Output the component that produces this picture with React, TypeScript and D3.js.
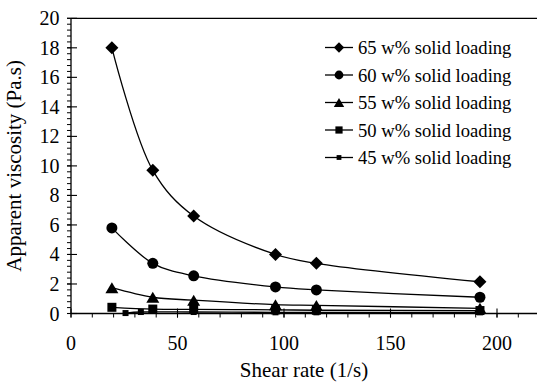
import React from "react";
import * as d3 from "d3";

const xMain = [19.2, 38.4, 57.6, 96, 115.2, 192];
const x45 = [25.6, 32.8, 57.6, 96, 115.2, 192];
const v65 = [18, 9.7, 6.6, 4.0, 3.4, 2.15];
const v60 = [5.8, 3.4, 2.55, 1.8, 1.6, 1.1];
const v55 = [1.75, 1.1, 0.9, 0.6, 0.55, 0.35];
const v50 = [0.42, 0.3, 0.28, 0.25, 0.22, 0.2];
const v45 = [0.03, 0.1, 0.1, 0.08, 0.08, 0.08];
const seriesNames = [
  "65 w% solid loading",
  "60 w% solid loading",
  "55 w% solid loading",
  "50 w% solid loading",
  "45 w% solid loading",
];
const xTicks = [0, 50, 100, 150, 200];
const yTicks = [0, 2, 4, 6, 8, 10, 12, 14, 16, 18, 20];

type Shape = "diamond" | "circle" | "triangle" | "square" | "smallsquare";

const series: { name: string; xs: number[]; ys: number[]; shape: Shape }[] = [
  { name: seriesNames[0], xs: xMain, ys: v65, shape: "diamond" },
  { name: seriesNames[1], xs: xMain, ys: v60, shape: "circle" },
  { name: seriesNames[2], xs: xMain, ys: v55, shape: "triangle" },
  { name: seriesNames[3], xs: xMain, ys: v50, shape: "square" },
  { name: seriesNames[4], xs: x45, ys: v45, shape: "smallsquare" },
];

function Marker({ shape, x, y, s = 1 }: { shape: Shape; x: number; y: number; s?: number }) {
  if (shape === "diamond") {
    const r = 6.5 * s;
    return <path d={`M${x},${y - r}L${x + r},${y}L${x},${y + r}L${x - r},${y}Z`} fill="#000" />;
  }
  if (shape === "circle") return <circle cx={x} cy={y} r={5.5 * s} fill="#000" />;
  if (shape === "triangle") {
    const w = 6.5 * s, h = 5.5 * s;
    return <path d={`M${x},${y - h}L${x + w},${y + h}L${x - w},${y + h}Z`} fill="#000" />;
  }
  if (shape === "square") {
    const r = 4.5 * s;
    return <rect x={x - r} y={y - r} width={2 * r} height={2 * r} fill="#000" />;
  }
  const r = 3 * s;
  return <rect x={x - r} y={y - r} width={2 * r} height={2 * r} fill="#000" />;
}

export default function App() {
  const W = 537, H = 382;
  const x = d3.scaleLinear().domain([0, 220]).range([71, 539.6]);
  const y = d3.scaleLinear().domain([0, 20]).range([313.5, 18.3]);
  const font = '"Liberation Serif", "Times New Roman", Times, serif';
  const line = d3
    .line<[number, number]>()
    .x((d) => x(d[0]))
    .y((d) => y(d[1]))
    .curve(d3.curveCatmullRom.alpha(0.5));

  const minorY = d3.range(0, 20.001, 0.4);
  const minorX = d3.range(0, 221, 10);

  const legendX = 325;
  const legendY0 = 47.5;
  const legendDy = 27.5;
  const ts = { fontFamily: font };

  return (
    <svg width={W} height={H} style={{ position: "absolute", left: 0, top: 0, background: "#fff" }}>
      <rect width={W} height={H} fill="#fff" />
      <line x1={x(0)} x2={W} y1={y(20)} y2={y(20)} stroke="#000" strokeWidth={1.3} />
      <line x1={x(0)} x2={x(0)} y1={y(0)} y2={y(20)} stroke="#000" strokeWidth={1.3} />
      {minorY.map((v, i) => (
        <line key={"my" + i} x1={x(0) - 4} x2={x(0)} y1={y(v)} y2={y(v)} stroke="#000" strokeWidth={1} />
      ))}
      {yTicks.map((v) => (
        <g key={"y" + v}>
          <line x1={x(0) - 4} x2={x(0) + 6} y1={y(v)} y2={y(v)} stroke="#000" strokeWidth={1.1} />
          <text x={59.5} y={y(v)} dy="0.35em" textAnchor="end" fontSize={20} fill="#000" style={ts}>
            {v}
          </text>
        </g>
      ))}
      <line x1={x(0)} x2={W} y1={y(0)} y2={y(0)} stroke="#000" strokeWidth={1.3} />
      {minorX.map((v, i) => (
        <line key={"mx" + i} x1={x(v)} x2={x(v)} y1={y(0)} y2={y(0) + 4} stroke="#000" strokeWidth={1} />
      ))}
      {xTicks.map((v) => (
        <g key={"x" + v}>
          <line x1={x(v)} x2={x(v)} y1={y(0) - 5} y2={y(0) + 4} stroke="#000" strokeWidth={1.1} />
          <text x={x(v)} y={350} textAnchor="middle" fontSize={20} fill="#000" style={ts}>
            {v}
          </text>
        </g>
      ))}
      <text x={304} y={377} textAnchor="middle" fontSize={21} fill="#000" style={ts}>
        Shear rate (1/s)
      </text>
      <text
        transform={`translate(21,${(y(0) + y(20)) / 2}) rotate(-90)`}
        textAnchor="middle"
        fontSize={21}
        fill="#000"
        style={ts}
      >
        Apparent viscosity (Pa.s)
      </text>
      {series.map((s, i) => {
        const pts = s.xs.map((xv, j) => [xv, s.ys[j]] as [number, number]);
        return (
          <g key={"s" + i}>
            <path d={line(pts) || ""} fill="none" stroke="#000" strokeWidth={1.3} />
            {pts.map((p, j) => (
              <Marker key={j} shape={s.shape} x={x(p[0])} y={y(p[1])} />
            ))}
          </g>
        );
      })}
      {series.map((s, i) => {
        const ly = legendY0 + i * legendDy;
        return (
          <g key={"l" + i}>
            <line x1={legendX} x2={legendX + 28} y1={ly} y2={ly} stroke="#000" strokeWidth={1.3} />
            <Marker shape={s.shape} x={legendX + 14} y={ly} s={0.8} />
            <text x={legendX + 33} y={ly} dy="0.35em" fontSize={18.6} fill="#000" style={ts}>
              {s.name}
            </text>
          </g>
        );
      })}
    </svg>
  );
}
